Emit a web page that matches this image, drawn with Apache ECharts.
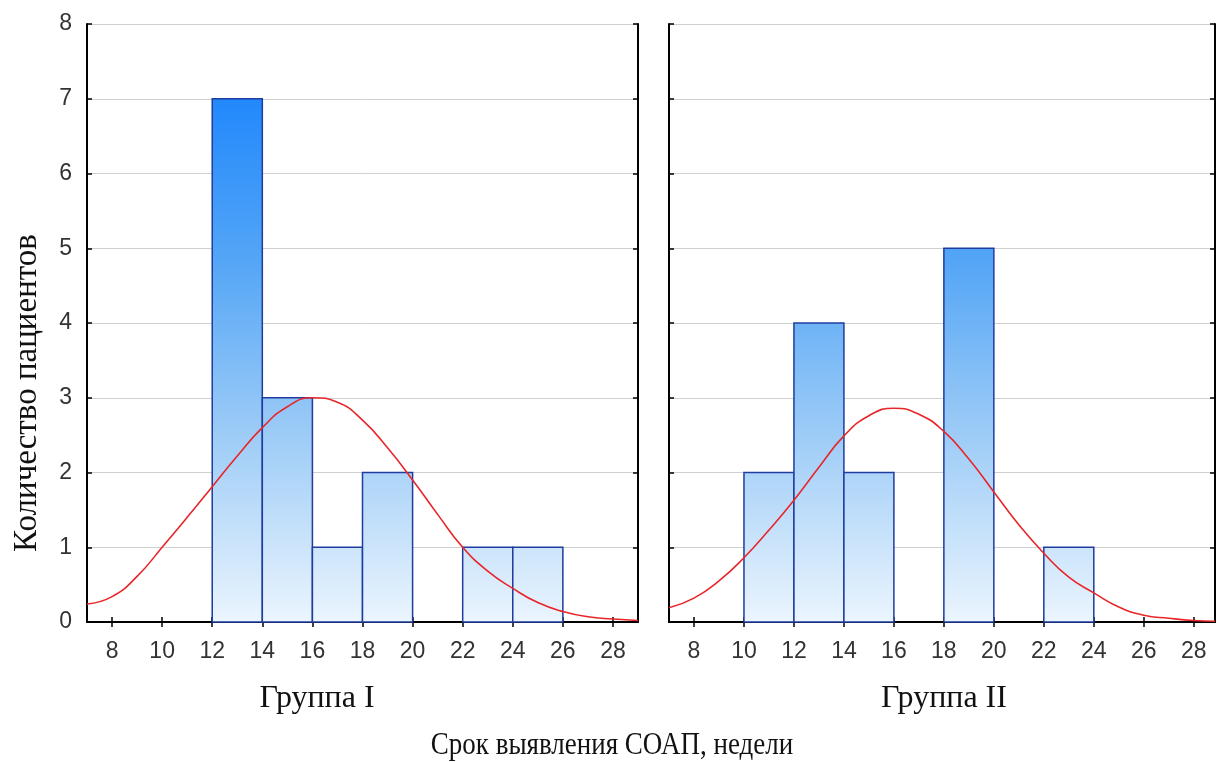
<!DOCTYPE html>
<html>
<head>
<meta charset="utf-8">
<script src="https://cdn.jsdelivr.net/npm/echarts@6/dist/echarts.min.js"></script>
<style>html,body{margin:0;padding:0;background:#fff;}#c{width:1225px;height:762px;}</style>
</head>
<body>
<div id="c"></div>
<script>
// ---- data ----
var xTicks = [8, 10, 12, 14, 16, 18, 20, 22, 24, 26, 28];
var binStarts1 = [12, 14, 16, 18, 20, 22, 24];
var counts1    = [7, 3, 1, 2, 0, 1, 1];
var binStarts2 = [10, 12, 14, 16, 18, 20, 22];
var counts2    = [2, 4, 2, 0, 5, 0, 1];
var binWidth = 2;
var curveX1 = [7, 8, 9, 10, 11, 12, 13, 14, 15, 16, 17, 18, 19, 20, 21, 22, 23, 24, 25, 26, 27, 28, 29];
var curveY1 = [0.24, 0.34, 0.61, 1.0, 1.4, 1.81, 2.22, 2.6, 2.88, 3.0, 2.94, 2.7, 2.33, 1.9, 1.44, 1.0, 0.68, 0.45, 0.26, 0.14, 0.07, 0.04, 0.02];
var curveX2 = [7, 8, 9, 10, 11, 12, 13, 14, 15, 16, 17, 18, 19, 20, 21, 22, 23, 24, 25, 26, 27, 28, 28.85];
var curveY2 = [0.19, 0.32, 0.55, 0.86, 1.23, 1.63, 2.07, 2.49, 2.76, 2.86, 2.78, 2.55, 2.18, 1.74, 1.3, 0.92, 0.6, 0.39, 0.2, 0.09, 0.05, 0.02, 0.01];
var groupLabels = ['Группа I', 'Группа II'];
var yTitle = 'Количество пациентов';
var xTitle = 'Срок выявления СОАП, недели';

function bins(starts, counts) {
  return starts.map(function (s, i) { return [s, s + binWidth, counts[i]]; });
}
function pts(xs, ys) { return xs.map(function (x, i) { return [x, ys[i]]; }); }

var chart = echarts.init(document.getElementById('c'));

function renderBar(params, api) {
  if (api.value(2) <= 0) return null;
  var tl = api.coord([api.value(0), api.value(2)]);
  var br = api.coord([api.value(1), 0]);
  var top = api.coord([7, 8])[1];
  var bottom = api.coord([7, 0])[1];
  var grad = new echarts.graphic.LinearGradient(0, top, 0, bottom, [
    { offset: 0, color: '#0a7bff' },
    { offset: 0.4, color: '#55a6f6' },
    { offset: 0.65, color: '#94c7f6' },
    { offset: 1, color: '#ebf5fe' }
  ], true);
  return {
    type: 'rect',
    shape: { x: tl[0], y: tl[1], width: br[0] - tl[0], height: br[1] - tl[1] },
    style: { fill: grad, stroke: '#1f3c9e', lineWidth: 1.5 }
  };
}

var lineAxis = { show: true, lineStyle: { color: '#000', width: 2 } };
var tickStyle = { show: true, inside: true, length: 5, lineStyle: { color: '#000', width: 1.5 } };
var labelFont = { fontFamily: 'Liberation Sans', fontSize: 23, color: '#333' };

function xAxes(gi, max) {
  return [
    { type: 'value', gridIndex: gi, min: 7, max: max, position: 'bottom',
      axisLine: lineAxis, splitLine: { show: false },
      axisTick: Object.assign({ customValues: xTicks }, tickStyle),
      axisLabel: Object.assign({ customValues: xTicks, margin: 18 }, labelFont) },
    { type: 'value', gridIndex: gi, min: 7, max: max, position: 'top',
      axisLine: lineAxis, splitLine: { show: false },
      axisTick: Object.assign({ customValues: xTicks }, tickStyle),
      axisLabel: { show: false } }
  ];
}
function yAxes(gi, showLabels) {
  return [
    { type: 'value', gridIndex: gi, min: 0, max: 8, interval: 1, position: 'left',
      axisLine: lineAxis,
      splitLine: { show: true, lineStyle: { color: '#d0d0d0', width: 1 } },
      axisTick: tickStyle,
      axisLabel: Object.assign({ show: showLabels, margin: 15 }, labelFont) },
    { type: 'value', gridIndex: gi, min: 0, max: 8, interval: 1, position: 'right',
      axisLine: lineAxis, splitLine: { show: false },
      axisTick: tickStyle, axisLabel: { show: false } }
  ];
}

var option = {
  animation: false,
  backgroundColor: '#fff',
  grid: [
    { left: 87, top: 24, width: 551, height: 598 },
    { left: 669, top: 24, width: 546, height: 598 }
  ],
  xAxis: xAxes(0, 29).concat(xAxes(1, 28.85)),
  yAxis: yAxes(0, true).concat(yAxes(1, false)),
  series: [
    { type: 'custom', xAxisIndex: 0, yAxisIndex: 0, renderItem: renderBar,
      data: bins(binStarts1, counts1), encode: { x: [0, 1], y: 2 }, z: 2 },
    { type: 'custom', xAxisIndex: 2, yAxisIndex: 2, renderItem: renderBar,
      data: bins(binStarts2, counts2), encode: { x: [0, 1], y: 2 }, z: 2 },
    { type: 'line', xAxisIndex: 0, yAxisIndex: 0, data: pts(curveX1, curveY1),
      smooth: 0.5, showSymbol: false, clip: true, z: 3,
      lineStyle: { color: '#e8262a', width: 1.6 } },
    { type: 'line', xAxisIndex: 2, yAxisIndex: 2, data: pts(curveX2, curveY2),
      smooth: 0.5, showSymbol: false, clip: true, z: 3,
      lineStyle: { color: '#e8262a', width: 1.6 } }
  ],
  graphic: [
    { type: 'text', x: 317, y: 699, style: { text: groupLabels[0], fontFamily: 'Liberation Serif', fontSize: 32, fill: '#111', align: 'center', verticalAlign: 'middle' } },
    { type: 'text', x: 944, y: 699, style: { text: groupLabels[1], fontFamily: 'Liberation Serif', fontSize: 32, fill: '#111', align: 'center', verticalAlign: 'middle' } },
    { type: 'text', x: 612, y: 745, scaleY: 1.2, style: { text: xTitle, fontFamily: 'Liberation Serif', fontSize: 27, fill: '#111', align: 'center', verticalAlign: 'middle' } },
    { type: 'text', x: 27, y: 393, rotation: Math.PI / 2, style: { text: yTitle, fontFamily: 'Liberation Serif', fontSize: 33, fill: '#111', align: 'center', verticalAlign: 'middle' } }
  ]
};
chart.setOption(option);
</script>
</body>
</html>
